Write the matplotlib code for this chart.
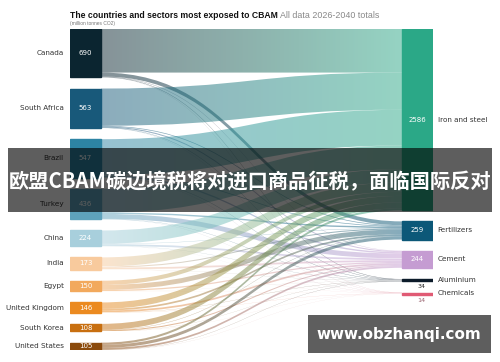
import matplotlib
matplotlib.use("Agg")
import matplotlib.pyplot as plt
import numpy as np
from matplotlib.path import Path
from matplotlib.patches import PathPatch, Rectangle
from matplotlib.colors import LinearSegmentedColormap

# data (million tonnes CO2, 2026-2040 totals)
countries = ["Canada", "South Africa", "Brazil", "Turkey", "China", "India",
             "Egypt", "United Kingdom", "South Korea", "United States"]
country_totals = [690, 563, 547, 436, 224, 173, 150, 146, 108, 105]
country_colors = ["#0b2530", "#18597a", "#2d84a4", "#5ea2bb", "#a8cfdc", "#f8ca9d",
                  "#f2a95d", "#eb8a20", "#c86f10", "#8b4a0c"]

sectors = ["Iron and steel", "Fertilizers", "Cement", "Aluminium", "Chemicals"]
sector_totals = [2586, 259, 244, 34, 14]
sector_colors = ["#2ba887", "#0c5878", "#c59cd2", "#0c1b2a", "#e05a74"]

# estimated country -> sector flows (rows: countries, cols: sectors)
flows = np.array([
    [622, 55, 5, 6, 2],
    [531, 10, 15, 5, 2],
    [510, 10, 20, 5, 2],
    [340, 20, 70, 4, 2],
    [190, 5, 25, 3, 1],
    [130, 15, 25, 2, 1],
    [60, 70, 18, 1, 1],
    [91, 25, 25, 3, 2],
    [85, 5, 15, 2, 1],
    [31, 44, 26, 3, 1],
])

GAP = 160
NODE_W = 0.0854

fig = plt.figure(figsize=(5, 3.62), dpi=100)
ax = fig.add_axes([70 / 500, 1 - 350 / 362, 363 / 500, 321 / 362])
total_h = sum(country_totals) + GAP * (len(countries) - 1)

# node positions
left_top = []
y = 0
for v in country_totals:
    left_top.append(y)
    y += v + GAP
right_top = []
y = 0
for v in sector_totals:
    right_top.append(y)
    y += v + GAP

# flows with a left-to-right colour gradient
x0, x1 = NODE_W, 1 - NODE_W
xm = (x0 + x1) / 2
grad = np.linspace(0, 1, 256).reshape(1, -1)
for i in range(len(countries)):
    for j in range(len(sectors)):
        w = flows[i, j]
        if w <= 0:
            continue
        sa = left_top[i] + flows[i, :j].sum()
        sb = sa + w
        da = right_top[j] + flows[:i, j].sum()
        db = da + w
        verts = [(x0, sa), (xm, sa), (xm, da), (x1, da),
                 (x1, db), (xm, db), (xm, sb), (x0, sb), (x0, sa)]
        codes = [Path.MOVETO, Path.CURVE4, Path.CURVE4, Path.CURVE4,
                 Path.LINETO, Path.CURVE4, Path.CURVE4, Path.CURVE4, Path.CLOSEPOLY]
        patch = PathPatch(Path(verts, codes), facecolor="none", edgecolor="none")
        ax.add_patch(patch)
        cmap = LinearSegmentedColormap.from_list("f", [country_colors[i], sector_colors[j]])
        ytop, ybot = min(sa, da), max(sb, db)
        im = ax.imshow(grad, extent=[x0, x1, ybot, ytop], aspect="auto",
                       cmap=cmap, alpha=0.5, interpolation="nearest", zorder=1)
        im.set_clip_path(patch)

# nodes
for i, name in enumerate(countries):
    ax.add_patch(Rectangle((0, left_top[i]), NODE_W, country_totals[i],
                           color=country_colors[i], zorder=3))
    cy = left_top[i] + country_totals[i] / 2
    ax.text(NODE_W / 2, cy, str(country_totals[i]), color="white", fontsize=5,
            ha="center", va="center", zorder=4)
    ax.text(-0.017, cy, name, color="#333333", fontsize=5.2,
            ha="right", va="center")

for j, name in enumerate(sectors):
    h = max(sector_totals[j], 28)
    ax.add_patch(Rectangle((1 - NODE_W, right_top[j]), NODE_W, h,
                           color=sector_colors[j], zorder=3))
    cy = right_top[j] + sector_totals[j] / 2
    if sector_totals[j] > 100:
        ax.text(1 - NODE_W / 2, cy, str(sector_totals[j]), color="white", fontsize=5,
                ha="center", va="center", zorder=4)
    else:
        ax.text(1 - NODE_W / 2 + 0.01, right_top[j] + 70, str(sector_totals[j]),
                color="#222222" if j == 3 else "#9a6470", fontsize=4.6,
                ha="center", va="top", zorder=4)
    ax.text(1.013, cy, name, color="#333333", fontsize=5.2, ha="left", va="center")

ax.set_xlim(0, 1)
ax.set_ylim(total_h, 0)
ax.axis("off")

# title
t1 = fig.text(70 / 500, 1 - 15 / 362, "The countries and sectors most exposed to CBAM",
              fontsize=6.2, fontweight="bold", color="#111111", va="center",
              family="Liberation Sans")
ax.annotate(" All data 2026-2040 totals", xy=(1, 0.5), xycoords=t1, va="center",
            fontsize=6.4, color="#888888", family="Liberation Sans",
            annotation_clip=False)
fig.text(70 / 500, 1 - 24 / 362, "(million tonnes CO2)", fontsize=3.5,
         color="#777777", va="center", family="Liberation Sans")

# overlay band with Chinese caption
fig.add_artist(Rectangle((8 / 500, 1 - 212 / 362), 484 / 500, 64 / 362,
                         transform=fig.transFigure, facecolor="black",
                         alpha=0.63, edgecolor="none", zorder=5))
fig.text(0.5, 1 - 182 / 362, "欧盟CBAM碳边境税将对进口商品征税，面临国际反对",
         fontsize=14.6, fontweight="bold", color="white", ha="center", va="center",
         family=["Noto Sans CJK SC", "DejaVu Sans"], zorder=6)

# watermark box
fig.add_artist(Rectangle((308 / 500, 1 - 353 / 362), 183 / 500, 38 / 362,
                         transform=fig.transFigure, facecolor="#5e5e5e",
                         edgecolor="none", zorder=5))
fig.text(399 / 500, 1 - 334 / 362, "www.obzhanqi.com", fontsize=10.9,
         fontweight="bold", color="white", ha="center", va="center",
         family="DejaVu Sans", zorder=6)

fig.savefig("out.png", dpi=100)
